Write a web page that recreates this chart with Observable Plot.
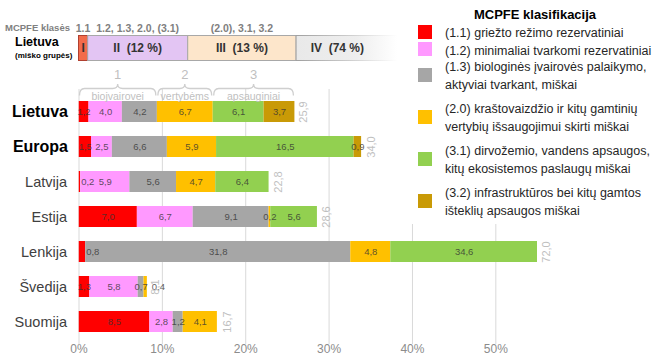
<!DOCTYPE html>
<html><head><meta charset="utf-8">
<script src="https://cdn.jsdelivr.net/npm/d3@7"></script>
<script src="https://cdn.jsdelivr.net/npm/@observablehq/plot@0.6"></script>
<style>
body{margin:0;background:#fff;font-family:"Liberation Sans",Arial,sans-serif;}
#wrap{position:relative;width:669px;height:356px;overflow:hidden;}
#legend{position:absolute;left:405px;top:0;width:264px;height:224px;background:#fff;color:#262626;font-size:12.5px;line-height:17.5px;}
#legend .lt{font-weight:bold;font-size:13px;color:#000;text-align:center;padding-top:5px;height:20px;line-height:20px;margin-left:-4px;}
#legend .li{display:flex;align-items:center;}
#legend .sw{width:14px;height:14px;margin-left:13px;margin-right:13px;flex:none;position:relative;top:-2px;}
</style></head><body><div id="wrap"><div id="legend"></div></div>
<script>
const countries = ["Lietuva","Europa","Latvija","Estija","Lenkija","Švedija","Suomija"];
const boldCountries = ["Lietuva","Europa"];
const classes = ["1.1","1.2","1.3","2.0","3.1","3.2"];
const classColors = ["#ff0000","#ff99ff","#a6a6a6","#ffc000","#92d050","#c99a06"];
const v11 = [1.2, 1.5, 0.2, 7.0, 0.8, 1.3, 8.5];
const v12 = [4.0, 2.5, 5.9, 6.7, 0, 5.8, 2.8];
const v13 = [4.2, 6.6, 5.6, 9.1, 31.8, 0.7, 1.2];
const v20 = [6.7, 5.9, 4.7, 0.2, 4.8, 0.4, 4.1];
const v31 = [6.1, 16.5, 6.4, 5.6, 34.6, 0, 0];
const v32 = [3.7, 0.9, 0, 0, 0, 0, 0];
const totals = [25.9, 34.0, 22.8, 28.6, 72.0, 8.1, 16.7];
const series = [v11, v12, v13, v20, v31, v32];

const groups = ["I","II","III","IV"];
const groupShares = [1.1, 12, 13, 74];
const groupLabels = ["I","II  (12 %)","III  (13 %)","IV  (74 %)"];
const groupClassLabels = ["1.1","1.2, 1.3, 2.0, (3.1)","(2.0), 3.1, 3.2",""];
const groupColors = ["#f26b4b","#e3c5f3","#fde6cb","#ebebeb"];
const braceNumbers = ["1","2","3"];
const braceLabels = ["biojvairovei","vertybėms","apsauginiai"];
const braceClasses = [["1.1","1.2","1.3"],["2.0"],["3.1","3.2"]];
const xTicks = [0,10,20,30,40,50];
const xMax = 55;
const legendTitle = "MCPFE klasifikacija";
const legendLabels = [
  ["(1.1) griežto režimo rezervatiniai"],
  ["(1.2) minimaliai tvarkomi rezervatiniai"],
  ["(1.3) biologinės įvairovės palaikymo,","aktyviai tvarkant, miškai"],
  ["(2.0) kraštovaizdžio ir kitų gamtinių","vertybių išsaugojimui skirti miškai"],
  ["(3.1) dirvožemio, vandens apsaugos,","kitų ekosistemos paslaugų miškai"],
  ["(3.2) infrastruktūros bei kitų gamtos","išteklių apsaugos miškai"]
];

const fmt = v => v.toFixed(1).replace(".", ",");

// tidy rows with stacked extents
const rows = [];
countries.forEach((c, i) => {
  let cum = 0;
  const nz = series.map((s, j) => j).filter(j => series[j][i] > 0);
  series.forEach((s, j) => {
    const v = s[i];
    if (v > 0) {
      let outside = null;
      if (v < 0.9 && j === nz[0]) outside = "first";
      else if (v < 0.9 && j === nz[nz.length - 1]) outside = "last";
      rows.push({country: c, cls: classes[j], value: v, x1: cum, x2: cum + v, outside});
      cum += v;
    }
  });
});
const totalRows = countries.map((c, i) => ({country: c, total: totals[i]}));

function decor(index, scales, values, dims) {
  const x = scales.x, y = scales.y;
  const top = y("Lietuva");
  const g = d3.create("svg:g");
  const defs = g.append("defs");
  const gr = defs.append("linearGradient").attr("id","fadeIV").attr("x1",0).attr("x2",1).attr("y1",0).attr("y2",0);
  gr.append("stop").attr("offset","0").attr("stop-color","#e9e9e9");
  gr.append("stop").attr("offset","0.25").attr("stop-color","#eeeeee");
  gr.append("stop").attr("offset","0.42").attr("stop-color","#ffffff");
  const gs = defs.append("linearGradient").attr("id","fadeIVs").attr("x1",0).attr("x2",1).attr("y1",0).attr("y2",0);
  gs.append("stop").attr("offset","0").attr("stop-color","#a0a0a0");
  gs.append("stop").attr("offset","0.2").attr("stop-color","#c8c8c8");
  gs.append("stop").attr("offset","0.42").attr("stop-color","#ffffff");

  // header texts
  const yHead = top - 73;
  g.append("text").attr("x", 5).attr("y", yHead).attr("dy","0.35em").attr("text-anchor","start")
    .attr("fill","#808080").attr("font-size",9.5).attr("font-weight","bold")
    .text("MCPFE klasės");
  // strip
  const sTop = top - 65.5, sH = 25;
  let cum = 0;
  groups.forEach((gname, i) => {
    const a = cum, b = cum + groupShares[i];
    cum = b;
    const X1 = x(a), X2 = x(Math.min(b, xMax));
    const isLast = i === groups.length - 1;
    g.append("rect").attr("x", X1).attr("y", sTop).attr("width", X2 - X1).attr("height", sH)
      .attr("fill", isLast ? "url(#fadeIV)" : groupColors[i])
      .attr("stroke", isLast ? "url(#fadeIVs)" : (i === 0 ? "#b04030" : "#a8a8a8")).attr("stroke-width", 1);
    const cx = isLast ? x((a + 36) / 2) : (X1 + X2) / 2;
    g.append("text").attr("x", cx).attr("y", sTop + sH / 2).attr("dy","0.35em").attr("text-anchor","middle")
      .attr("font-size", 12).attr("font-weight","bold").attr("fill","#333")
      .style("white-space","pre").text(groupLabels[i]);
    if (groupClassLabels[i]) {
      g.append("text").attr("x", (X1 + X2) / 2).attr("y", yHead).attr("dy","0.35em").attr("text-anchor","middle")
        .attr("fill","#808080").attr("font-size",10.5).attr("font-weight","bold")
        .text(groupClassLabels[i]);
    }
  });
  g.append("text").attr("x", 15).attr("y", top - 59).attr("dy","0.35em").attr("text-anchor","start").attr("font-size",12.5)
    .attr("font-weight","bold").attr("fill","#000").text("Lietuva");
  g.append("text").attr("x", 15).attr("y", top - 46).attr("dy","0.35em").attr("text-anchor","start").attr("font-size",8)
    .attr("font-weight","bold").attr("fill","#000").text("(miško grupės)");

  // braces from the Lietuva row
  const li = countries.indexOf("Lietuva");
  braceClasses.forEach((cls, k) => {
    const j0 = classes.indexOf(cls[0]), j1 = classes.indexOf(cls[cls.length - 1]);
    let start = 0, end = 0;
    series.forEach((s, j) => { if (j < j0) start += s[li]; if (j <= j1) end += s[li]; });
    const X0 = x(start) + 1, X1 = x(end) - 1, xm = (X0 + X1) / 2, yl = top - 12.5, r = 5;
    g.append("path").attr("fill","none").attr("stroke","#cfcfcf").attr("stroke-width",1.3)
      .attr("d", `M${X0},${yl + 7} Q${X0},${yl} ${X0 + r},${yl} L${xm - r},${yl} Q${xm},${yl} ${xm},${yl - 4.5} Q${xm},${yl} ${xm + r},${yl} L${X1 - r},${yl} Q${X1},${yl} ${X1},${yl + 7}`);
    g.append("text").attr("x", xm).attr("y", top - 27).attr("dy","0.35em").attr("text-anchor","middle")
      .attr("font-size", 13).attr("fill","#bfbfbf").text(braceNumbers[k]);
    g.append("text").attr("x", xm).attr("y", top - 4.5).attr("dy","0.35em").attr("text-anchor","middle")
      .attr("font-size", 10.5).attr("fill","#bfbfbf").text(braceLabels[k]);
  });
  return g.node();
}

const labelStyle = {y: "country", text: d => fmt(d.value), fill: "#333", fillOpacity: 0.8, fontSize: 9.5};
const chart = Plot.plot({
  width: 669, height: 356,
  marginLeft: 78.5, marginRight: 132, marginTop: 89, marginBottom: 12,
  x: {domain: [0, xMax]},
  y: {domain: countries, paddingInner: 0.4, paddingOuter: 0.25, axis: null},
  color: {domain: classes, range: classColors},
  style: {fontFamily: "'Liberation Sans', Arial, sans-serif", background: "transparent", overflow: "visible"},
  marks: [
    Plot.gridX(xTicks, {stroke: "#d9d9d9", strokeOpacity: 1}),
    Plot.axisX({ticks: xTicks, tickFormat: d => d + "%", tickSize: 0, tickPadding: 0, fontSize: 12, color: "#8c8c8c", label: null}),
    Plot.barX(rows, {x1: "x1", x2: "x2", y: "country", fill: "cls", clip: true}),
    Plot.text(rows.filter(d => !d.outside), {...labelStyle, x: d => (d.x1 + Math.min(d.x2, xMax)) / 2}),
    Plot.text(rows.filter(d => d.outside === "first"), {...labelStyle, x: "x2", textAnchor: "start", dx: 0.5}),
    Plot.text(rows.filter(d => d.outside === "last"), {...labelStyle, x: "x2", textAnchor: "start", dx: 4.5}),
    Plot.text(totalRows, {x: d => Math.min(d.total, xMax), y: "country", text: d => fmt(d.total), rotate: -90, dx: 9, fill: "#bfbfbf", fontSize: 11}),
    Plot.text(countries.filter(c => boldCountries.includes(c)), {y: d => d, text: d => d, frameAnchor: "left", textAnchor: "end", dx: -11, fontSize: 16, fontWeight: "bold", fill: "#000"}),
    Plot.text(countries.filter(c => !boldCountries.includes(c)), {y: d => d, text: d => d, frameAnchor: "left", textAnchor: "end", dx: -12, fontSize: 14.5, fill: "#404040"}),
    decor
  ]
});
const wrap = document.getElementById("wrap");
wrap.insertBefore(chart, wrap.firstChild);

// legend
const lg = document.getElementById("legend");
const t = document.createElement("div"); t.className = "lt"; t.textContent = legendTitle; lg.appendChild(t);
legendLabels.forEach((lines, i) => {
  const row = document.createElement("div"); row.className = "li";
  if (i >= 3) row.style.marginTop = "7px";
  if (i === 2) row.style.marginTop = "-1px";
  const sw = document.createElement("span"); sw.className = "sw"; sw.style.background = classColors[i];
  const tx = document.createElement("span"); tx.innerHTML = lines.join("<br>");
  row.appendChild(sw); row.appendChild(tx); lg.appendChild(row);
});
</script>
</body></html>
